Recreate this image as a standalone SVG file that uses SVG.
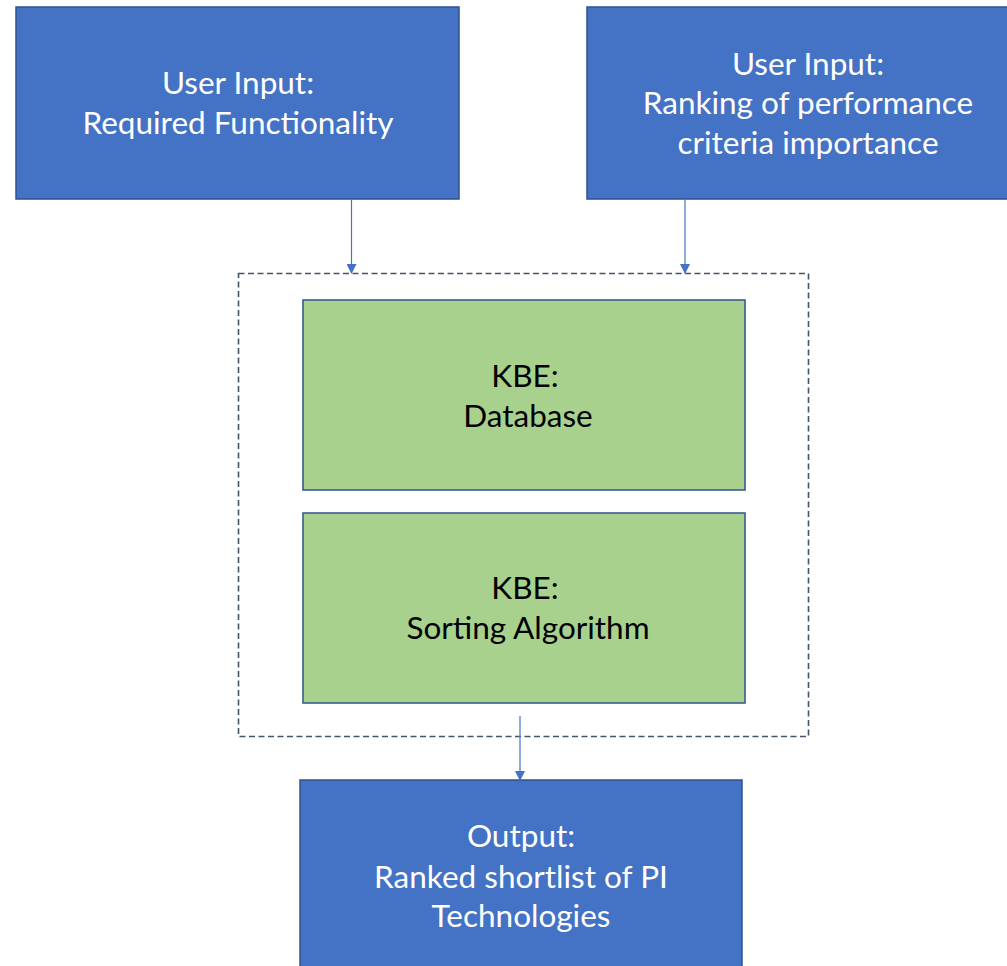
<svg xmlns="http://www.w3.org/2000/svg" width="1007" height="966" viewBox="0 0 1007 966">
<style>
.blue{fill:#4472C4;stroke:#2F528F;stroke-width:1.5}
.green{fill:#A9D18E;stroke:#2F528F;stroke-width:1.5}
.wt{fill:#FFFFFF;font-family:Lato,"Open Sans",sans-serif;font-size:31.5px;text-anchor:middle}
.bt{fill:#000000;font-family:Lato,"Open Sans",sans-serif;font-size:31.5px;text-anchor:middle}
.conn{stroke:#4472C4;stroke-width:1.2;fill:none;marker-end:url(#ah)}
.dash{fill:none;stroke:#44546A;stroke-width:1.6;stroke-dasharray:6 3.5}
</style>
<defs>
<marker id="ah" markerWidth="10" markerHeight="10" refX="9" refY="5" orient="auto" markerUnits="userSpaceOnUse">
<path d="M0,0 L10,5 L0,10 Z" fill="#4472C4"/>
</marker>
</defs>
<rect width="1007" height="966" fill="#FFFFFF"/>
<g id="group-kbe">
<rect class="dash" x="238.5" y="273.5" width="570" height="463"/>
</g>
<g id="node-input1">
<rect class="blue" x="16" y="7" width="443" height="192"/>
<text class="wt" x="238" y="94">User Input:</text>
<text class="wt" x="238" y="134">Required Functionality</text>
</g>
<g id="node-input2">
<rect class="blue" x="587" y="7" width="443" height="192"/>
<text class="wt" x="808" y="75">User Input:</text>
<text class="wt" x="808" y="114">Ranking of performance</text>
<text class="wt" x="808" y="154">criteria importance</text>
</g>
<g id="node-database">
<rect class="green" x="303" y="300" width="442" height="190"/>
<text class="bt" x="525" y="387">KBE:</text>
<text class="bt" x="528" y="427">Database</text>
</g>
<g id="node-sorting">
<rect class="green" x="303" y="513" width="442" height="190"/>
<text class="bt" x="525" y="599">KBE:</text>
<text class="bt" x="528" y="639">Sorting Algorithm</text>
</g>
<g id="node-output">
<rect class="blue" x="300" y="780" width="442" height="200"/>
<text class="wt" x="521" y="847">Output:</text>
<text class="wt" x="521" y="888">Ranked shortlist of PI</text>
<text class="wt" x="521" y="927">Technologies</text>
</g>
<g id="connectors">
<line class="conn" x1="351.5" y1="199" x2="351.5" y2="273"/>
<line class="conn" x1="685" y1="199" x2="685" y2="273"/>
<line class="conn" x1="520" y1="716" x2="520" y2="780"/>
</g>
</svg>
